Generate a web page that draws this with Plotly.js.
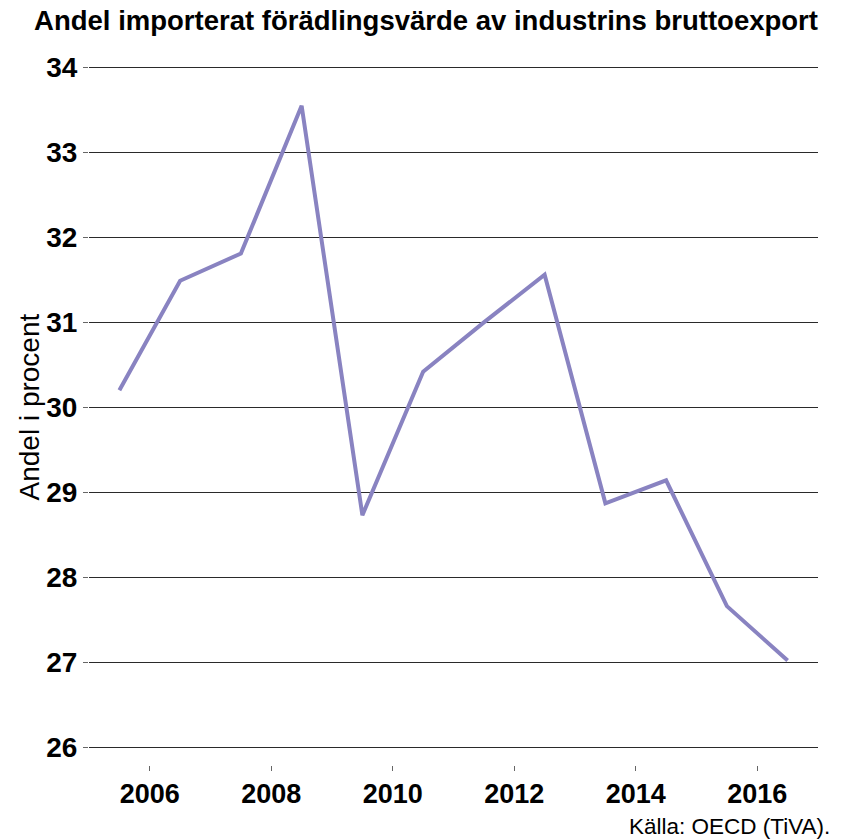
<!DOCTYPE html>
<html>
<head>
<meta charset="utf-8">
<script src="https://cdn.plot.ly/plotly-3.0.1.min.js"></script>
<style>html,body{margin:0;padding:0;background:#fff;}#chart{width:842px;height:839px;}</style>
</head>
<body>
<div id="chart"></div>
<script>
// Data (mid-year observations)
const years = [2005, 2006, 2007, 2008, 2009, 2010, 2011, 2012, 2013, 2014, 2015, 2016];
const shareImported = [30.20, 31.49, 31.81, 33.55, 28.73, 30.42, 31.00, 31.56, 28.87, 29.14, 27.66, 27.02];
const xTickYears = [2006, 2008, 2010, 2012, 2014, 2016];
const yTicks = [26, 27, 28, 29, 30, 31, 32, 33, 34];

const titleText = 'Andel importerat förädlingsvärde av industrins bruttoexport';
const yTitleText = 'Andel i procent';
const sourceText = 'Källa: OECD (TiVA).';

const FONT = 'Liberation Sans, Arial, sans-serif';

const trace = {
  x: years.map(y => y + 0.5),
  y: shareImported,
  type: 'scatter',
  mode: 'lines',
  line: {color: '#8983c1', width: 4},
  hoverinfo: 'skip'
};

const layout = {
  width: 842,
  height: 839,
  margin: {l: 89, r: 24, t: 64, b: 74},
  paper_bgcolor: '#ffffff',
  plot_bgcolor: '#ffffff',
  showlegend: false,
  title: {
    text: titleText,
    font: {family: FONT, size: 27.5, color: '#000', weight: 700},
    x: 0.506, xref: 'container', xanchor: 'center',
    y: 0.976, yref: 'container', yanchor: 'middle'
  },
  xaxis: {
    range: [2005, 2017],
    tickvals: xTickYears,
    ticktext: xTickYears.map(String),
    showgrid: false,
    zeroline: false,
    showline: false,
    ticks: 'outside',
    ticklen: 5,
    tickwidth: 1,
    tickcolor: '#666',
    tickfont: {family: FONT, size: 27, color: '#000', weight: 700},
    fixedrange: true
  },
  yaxis: {
    range: [25.79, 34.041],
    tickvals: yTicks,
    ticktext: yTicks.map(String),
    showgrid: true,
    gridcolor: '#2a2a2a',
    gridwidth: 1,
    zeroline: false,
    showline: false,
    ticks: 'outside',
    ticklen: 5,
    tickwidth: 1,
    tickcolor: '#666',
    tickfont: {family: FONT, size: 28, color: '#000', weight: 700},
    fixedrange: true
  },
  annotations: [
    {
      text: yTitleText,
      xref: 'paper', yref: 'paper',
      x: 0, y: 0.5, xanchor: 'center', yanchor: 'middle',
      xshift: -60, yshift: 7,
      textangle: -90,
      showarrow: false,
      font: {family: FONT, size: 28, color: '#000'}
    },
    {
      text: sourceText,
      xref: 'paper', yref: 'paper',
      x: 1, y: 0, xanchor: 'right', yanchor: 'middle',
      xshift: 14, yshift: -61,
      showarrow: false,
      font: {family: FONT, size: 22.5, color: '#000'}
    }
  ]
};

Plotly.newPlot('chart', [trace], layout, {displayModeBar: false, staticPlot: true});
</script>
</body>
</html>
